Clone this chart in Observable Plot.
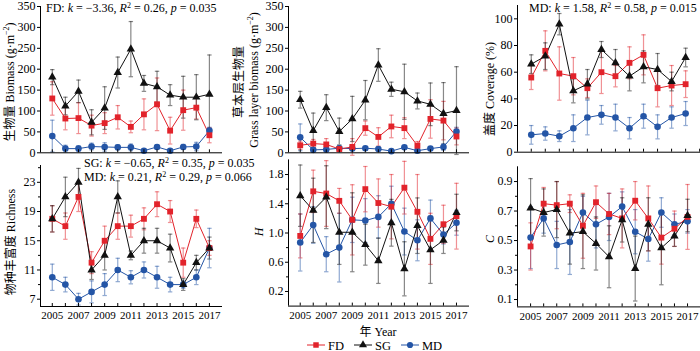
<!DOCTYPE html>
<html><head><meta charset="utf-8">
<script src="https://cdn.jsdelivr.net/npm/d3@7"></script>
<script src="https://cdn.jsdelivr.net/npm/@observablehq/plot@0.6"></script>
<style>
body{margin:0;background:#fff;}
#root{position:relative;width:700px;height:351px;overflow:hidden;font-family:"Liberation Serif","Times New Roman",serif;color:#000;background:#fff;}
.p{position:absolute;}
.vlab{position:absolute;left:0;top:0;white-space:nowrap;font-size:12px;transform-origin:0 0;line-height:1;}
.cjk{font-family:"Noto Sans CJK SC",sans-serif;}
.ann{position:absolute;white-space:nowrap;font-size:12px;line-height:12px;height:12px;}
.ann sup{font-size:8px;line-height:0;vertical-align:4px;}
</style></head><body><div id="root"></div>
<script>
// ---------- data ----------
const years = [2005,2006,2007,2008,2009,2010,2011,2012,2013,2014,2015,2016,2017];
const coverYears = [2005,2006,2007,2008,2009,2010,2011,2012,2013,2014,2015,2016];
const oddYears = [2005,2007,2009,2011,2013,2015,2017];

// Biomass (g·m-2)
const bioFD  = [130, 82, 83, 65, 71, 85, 62, 92, 116, 53, 102, 108, 42];
const bioFDe = [40, 27, 37, 25, 25, 28, 14, 37, 63, 32, 48, 27, 18];
const bioSG  = [181, 112, 147, 73, 107, 192, 248, 166, 158, 138, 133, 133, 140];
const bioSGe = [18, 21, 27, 30, 51, 37, 66, 19, 37, 25, 50, 54, 94];
const bioMD  = [40, 10, 10, 15, 14, 13, 13, 5, 14, 5, 14, 15, 53];
const bioMDe = [38, 8, 7, 8, 10, 6, 8, 4, 5, 4, 6, 10, 8];

// Grass layer biomass (g·m-2)
const grassFD  = [18, 22, 20, 9, 14, 59, 38, 63, 59, 17, 81, 77, 39];
const grassFDe = [10, 10, 14, 6, 20, 17, 22, 27, 25, 10, 46, 46, 20];
const grassSG  = [127, 53, 108, 51, 81, 126, 210, 152, 146, 124, 116, 94, 101];
const grassSGe = [20, 42, 31, 32, 54, 47, 39, 17, 66, 19, 51, 74, 105];
const grassMD  = [37, 7, 8, 11, 10, 11, 9, 4, 13, 5, 10, 14, 51];
const grassMDe = [32, 5, 5, 6, 5, 4, 4, 3, 4, 3, 4, 8, 10];

// Coverage (%)
const covFD  = [56, 76, 59, 57, 48, 60, 57, 67, 73, 48, 50, 51];
const covFDe = [9, 15, 20, 14, 7, 16, 8, 12, 15, 14, 15, 10];
const covSG  = [66, 72, 96, 46, 51, 77, 67, 57, 64, 62, 53, 71];
const covSGe = [7, 10, 8, 9, 11, 6, 10, 11, 12, 12, 7, 7];
const covMD  = [13, 14, 12, 18, 26, 28, 26, 18, 27, 19, 26, 29];
const covMDe = [7, 5, 4, 10, 13, 7, 10, 8, 9, 9, 8, 9];

// Richness
const richFD  = [18, 17, 21, 12, 15, 17, 17, 18, 20, 19, 12, 18, 14];
const richFDe = [1.8, 1.8, 2, 1.5, 2, 1.8, 1.5, 1.5, 1.7, 1.5, 2, 1.2, 1];
const richSG  = [18, 21, 23, 11, 13, 21, 13, 15, 15, 14, 9, 12, 14];
const richSGe = [1.8, 2.7, 1.9, 1.3, 2, 2.2, 0.6, 1.7, 1.7, 1.9, 0.8, 1, 1.5];
const richMD  = [10, 9, 7, 8, 9, 11, 10, 11, 10, 9, 9, 10, 14];
const richMDe = [1.8, 1, 0.8, 1.5, 1.5, 1.6, 0.9, 1.1, 1.5, 1, 0.5, 1, 2.7];

// Shannon H
const hFD  = [0.96, 1.57, 1.54, 1.44, 1.18, 1.60, 1.41, 1.36, 1.62, 1.29, 0.92, 1.12, 1.23];
const hFDe = [0.30, 0.29, 0.45, 0.17, 0.48, 0.31, 0.33, 0.44, 0.36, 0.51, 0.35, 0.26, 0.45];
const hSG  = [1.51, 1.31, 1.49, 1.01, 1.01, 0.84, 0.62, 1.14, 0.51, 1.10, 0.77, 0.90, 1.28];
const hSGe = [0.42, 0.44, 0.43, 0.44, 0.54, 0.28, 0.31, 0.32, 0.37, 0.38, 0.46, 0.18, 0.25];
const hMD  = [0.87, 1.11, 0.71, 0.80, 1.18, 1.17, 1.22, 1.40, 1.02, 0.90, 1.20, 0.98, 1.14];
const hMDe = [0.39, 0.25, 0.24, 0.47, 0.31, 0.30, 0.29, 0.24, 0.32, 0.28, 0.25, 0.13, 0.17];

// Simpson C
const cFD  = [0.46, 0.75, 0.74, 0.75, 0.60, 0.76, 0.68, 0.65, 0.77, 0.65, 0.52, 0.58, 0.66];
const cFDe = [0.16, 0.11, 0.16, 0.06, 0.22, 0.11, 0.14, 0.20, 0.13, 0.22, 0.18, 0.12, 0.22];
const cSG  = [0.72, 0.69, 0.71, 0.55, 0.56, 0.48, 0.39, 0.64, 0.31, 0.61, 0.45, 0.53, 0.67];
const cSGe = [0.20, 0.16, 0.19, 0.21, 0.25, 0.18, 0.21, 0.15, 0.22, 0.18, 0.25, 0.07, 0.11];
const cMD  = [0.52, 0.65, 0.47, 0.49, 0.69, 0.61, 0.66, 0.73, 0.56, 0.51, 0.69, 0.61, 0.63];
const cMDe = [0.21, 0.10, 0.16, 0.22, 0.11, 0.16, 0.16, 0.10, 0.15, 0.15, 0.10, 0.07, 0.08];

const seriesNames = ["FD", "SG", "MD"];
const colors = {FD: "#e2232b", SG: "#111111", MD: "#2455a6"};
const symbols = {FD: "square", SG: "triangle", MD: "circle"};
const sizes = {FD: 3.3, SG: 3.1, MD: 3.3};

// ---------- helpers ----------
const root = document.getElementById("root");
const cap = {draw(ctx){ ctx.moveTo(-2.2, 0); ctx.lineTo(2.2, 0); }};

function build(xs, vals, errs) {
  const layers = {err: [], line: [], pts: []};
  ["MD", "FD", "SG"].forEach(name => {
    const i = seriesNames.indexOf(name);
    const v = vals[i], e = errs[i];
    const data = xs.map((x, j) => ({x, y: v[j], lo: v[j] - e[j], hi: v[j] + e[j]}));
    const c = colors[name];
    layers.err.push(
      Plot.ruleX(data, {x: "x", y1: "lo", y2: "hi", stroke: c, strokeOpacity: 0.5, strokeWidth: 1.2}),
      Plot.dot(data, {x: "x", y: "lo", symbol: cap, stroke: c, strokeOpacity: 0.5, strokeWidth: 1.2, fill: "none"}),
      Plot.dot(data, {x: "x", y: "hi", symbol: cap, stroke: c, strokeOpacity: 0.5, strokeWidth: 1.2, fill: "none"})
    );
    layers.line.push(Plot.line(data, {x: "x", y: "y", stroke: c, strokeWidth: 1}));
    layers.pts.push(Plot.dot(data, {x: "x", y: "y", symbol: symbols[name], r: sizes[name], fill: c, stroke: "none"}));
  });
  return [...layers.err, ...layers.line, ...layers.pts];
}

function panel(p) {
  const marks = [
    ...build(p.xs, p.vals, p.errs),
    Plot.ruleX([p.xDomain[0]], {stroke: "#000", strokeWidth: 1}),
    Plot.ruleY([p.yDomain[0]], {stroke: "#000", strokeWidth: 1}),
    Plot.axisY({ticks: p.yTicks, tickSize: 3, tickPadding: 2, tickFormat: p.yFmt, label: null, fontSize: 12}),
    Plot.axisX({ticks: years, tickSize: 3, dy: -3, tickFormat: () => "", label: null})
  ];
  if (p.yMinor) marks.push(Plot.axisY({ticks: p.yMinor, tickSize: 2, tickFormat: () => "", label: null}));
  if (p.xLabels) marks.push(Plot.axisX({ticks: oddYears, tickSize: 0, tickPadding: 5, tickFormat: "d", label: null, fontSize: 11}));
  const svg = Plot.plot({
    width: p.width, height: p.height,
    marginLeft: p.m[0], marginRight: p.m[1], marginTop: p.m[2], marginBottom: p.m[3],
    x: {domain: p.xDomain, label: null},
    y: {domain: p.yDomain, label: null},
    style: {fontFamily: "'Liberation Serif', 'Times New Roman', serif", fontSize: "12px", background: "transparent", overflow: "visible", maxWidth: "none", color: "#000"},
    marks
  });
  const d = document.createElement("div");
  d.className = "p";
  d.style.left = p.left + "px"; d.style.top = p.top + "px";
  d.appendChild(svg);
  root.appendChild(d);
}

function vlabel(html, x, y, cls) {
  const d = document.createElement("div");
  d.className = "vlab" + (cls ? " " + cls : "");
  d.innerHTML = html;
  d.style.transform = `translate(${x}px, ${y}px) rotate(-90deg) translate(-50%, -50%)`;
  root.appendChild(d);
}
function ann(html, x, y) {
  const d = document.createElement("div");
  d.className = "ann";
  d.innerHTML = html;
  d.style.left = x + "px"; d.style.top = y + "px";
  root.appendChild(d);
}

const bioTicks = d3.range(0, 351, 50);

panel({left: 0, top: 0, width: 230, height: 160, m: [40, 8, 6, 7.7],
  xs: years, vals: [bioFD, bioSG, bioMD], errs: [bioFDe, bioSGe, bioMDe],
  xDomain: [2004.1, 2018], yDomain: [0, 350], yTicks: bioTicks});
panel({left: 230, top: 0, width: 240, height: 160, m: [58, 1, 6, 7.7],
  xs: years, vals: [grassFD, grassSG, grassMD], errs: [grassFDe, grassSGe, grassMDe],
  xDomain: [2004.1, 2018], yDomain: [0, 350], yTicks: bioTicks});
panel({left: 460, top: 0, width: 256, height: 160, m: [57, 0, 5, 8.3],
  xs: coverYears, vals: [covFD, covSG, covMD], errs: [covFDe, covSGe, covMDe],
  xDomain: [2004.02, 2018.2], yDomain: [0, 110], yTicks: d3.range(0, 101, 20)});
panel({left: 0, top: 155, width: 230, height: 170, m: [40, 8, 10, 19],
  xs: years, vals: [richFD, richSG, richMD], errs: [richFDe, richSGe, richMDe],
  xDomain: [2004.1, 2018], yDomain: [6, 25.3], yTicks: [7, 11, 15, 19, 23], yMinor: [9, 13, 17, 21, 25], xLabels: true});
panel({left: 230, top: 155, width: 240, height: 170, m: [58, 1, 4.4, 19.4],
  xs: years, vals: [hFD, hSG, hMD], errs: [hFDe, hSGe, hMDe],
  xDomain: [2004.1, 2018], yDomain: [0, 2], yTicks: [0.2, 0.6, 1.0, 1.4, 1.8], yMinor: [0.4, 0.8, 1.2, 1.6], yFmt: ".1f", xLabels: true});
panel({left: 460, top: 155, width: 246, height: 170, m: [57, 0, 11.3, 18.6],
  xs: years, vals: [cFD, cSG, cMD], errs: [cFDe, cSGe, cMDe],
  xDomain: [2004.0, 2018.45], yDomain: [0.05, 1.0], yTicks: [0.1, 0.3, 0.5, 0.7, 0.9], yMinor: [0.2, 0.4, 0.6, 0.8], yFmt: ".1f", xLabels: true});

// axis titles
vlabel('<span class="cjk">生物量</span> Biomass (g·m<sup style="font-size:8px">−2</sup>)', 9, 82);
vlabel('<span class="cjk">草本层生物量</span>', 238, 82);
vlabel('Grass layer biomass (g·m<sup style="font-size:8px">−2</sup>)', 253, 80);
vlabel('<span class="cjk">盖度</span> Coverage (%)', 489, 89);
vlabel('<span class="cjk">物种丰富度</span> Richness', 10, 242);
vlabel('<i>H</i>', 259, 232);
vlabel('<i>C</i>', 490, 239);

// annotations
ann('FD: <i>k</i> = −3.36, <i>R</i><sup>2</sup> = 0.26, <i>p</i> = 0.035', 46, 2);
ann('MD: <i>k</i> = 1.58, <i>R</i><sup>2</sup> = 0.58, <i>p</i> = 0.015', 529, 2);
ann('SG: <i>k</i> = −0.65, <i>R</i><sup>2</sup> = 0.35, <i>p</i> = 0.035', 84, 157);
ann('MD: <i>k</i> = 0.21, <i>R</i><sup>2</sup> = 0.29, <i>p</i> = 0.066', 84, 171);

// x title
const xt = document.createElement("div");
xt.innerHTML = '<span class="cjk">年</span> Year';
xt.style.cssText = "position:absolute;left:378px;top:325px;transform:translateX(-50%);font-size:12px;white-space:nowrap;line-height:1;";
root.appendChild(xt);

// legend
const lg = d3.select(root).append("svg").attr("width", 160).attr("height", 14)
  .style("position", "absolute").style("left", "305px").style("top", "338px").style("overflow", "visible");
const legendX = {FD: 0, SG: 47, MD: 94};
seriesNames.forEach(name => {
  const g = lg.append("g").attr("transform", `translate(${legendX[name]},7)`);
  g.append("line").attr("x1", 2).attr("x2", 20).attr("stroke", colors[name]).attr("stroke-width", 1);
  g.append("path").attr("transform", "translate(11,0)")
    .attr("d", d3.symbol(name === "FD" ? d3.symbolSquare : name === "SG" ? d3.symbolTriangle : d3.symbolCircle, name === "SG" ? 28 : 30)())
    .attr("fill", colors[name]);
  g.append("text").attr("x", 23).attr("y", 4.5).text(name)
    .style("font-family", "'Liberation Serif', serif").style("font-size", "12.5px");
});
</script>
</body></html>
